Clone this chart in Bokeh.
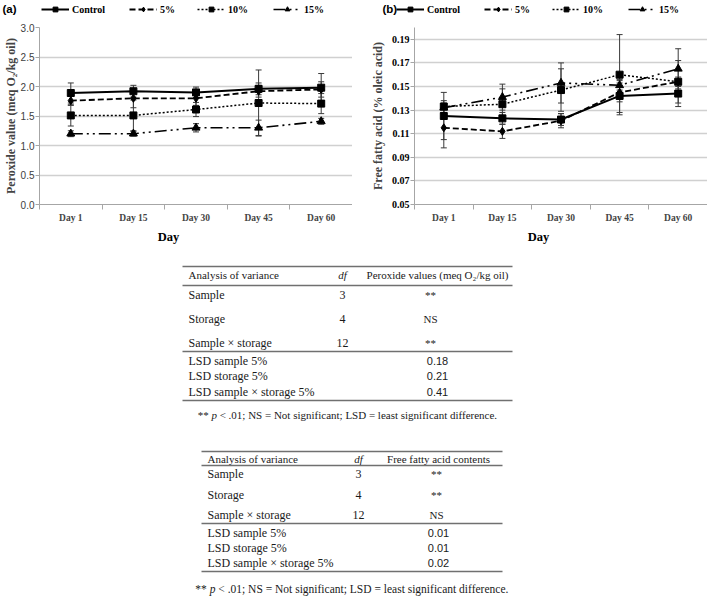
from bokeh.plotting import figure
from bokeh.models import (Range1d, FixedTicker, Legend, LegendItem, Whisker,
                          ColumnDataSource, TeeHead, PrintfTickFormatter)
from bokeh.layouts import column, row
from bokeh.embed import file_html
from bokeh.resources import INLINE
from bokeh.core.properties import value

# ---------------- data ----------------
days = ["Day 1", "Day 15", "Day 30", "Day 45", "Day 60"]
series = ["Control", "5%", "10%", "15%"]
panel_tags = ["(a)", "(b)"]
x_title = "Day"

# (a) Peroxide value (meq O2/kg oil)
pv_control = [1.89, 1.92, 1.90, 1.96, 1.98]
pv_5 = [1.76, 1.80, 1.80, 1.92, 1.95]
pv_10 = [1.51, 1.51, 1.61, 1.72, 1.71]
pv_15 = [1.20, 1.20, 1.30, 1.30, 1.41]
pv_control_err = [0.17, 0.10, 0.09, 0.10, 0.24]
pv_5_err = [0.08, 0.16, 0.12, 0.10, 0.13]
pv_10_err = [0.18, 0.26, 0.12, 0.56, 0.17]
pv_15_err = [0.05, 0.04, 0.07, 0.13, 0.05]
pv_ticks = [0.0, 0.5, 1.0, 1.5, 2.0, 2.5, 3.0]

# (b) Free fatty acid (% oleic acid)
ffa_control = [0.125, 0.123, 0.122, 0.142, 0.144]
ffa_5 = [0.115, 0.112, 0.121, 0.145, 0.154]
ffa_10 = [0.133, 0.135, 0.147, 0.160, 0.154]
ffa_15 = [0.132, 0.141, 0.153, 0.151, 0.165]
ffa_control_err = [0.020, 0.005, 0.005, 0.014, 0.011]
ffa_5_err = [0.017, 0.006, 0.006, 0.008, 0.018]
ffa_10_err = [0.005, 0.013, 0.018, 0.034, 0.004]
ffa_15_err = [0.004, 0.011, 0.017, 0.004, 0.017]
ffa_ticks = [0.05, 0.07, 0.09, 0.11, 0.13, 0.15, 0.17, 0.19]

# ANOVA tables
anova_header = ["Analysis of variance", "df"]
pv_header = "Peroxide values (meq O\u2082/kg oil)"
ffa_header = "Free fatty acid contents"
anova_sources = ["Sample", "Storage", "Sample \u00d7 storage"]
anova_df = ["3", "4", "12"]
pv_sig = ["**", "NS", "**"]
ffa_sig = ["**", "**", "NS"]
lsd_labels = ["LSD sample  5%", "LSD storage  5%", "LSD sample \u00d7 storage 5%"]
pv_lsd = ["0.18", "0.21", "0.41"]
ffa_lsd = ["0.01", "0.01", "0.02"]
footnote_parts = ["**", "p", "< .01; NS = Not significant; LSD = least significant difference."]

# ---------------- styles ----------------
SERIF = "Liberation Serif"
SANS = "Liberation Sans"
styles = {
    "Control": dict(dash="solid", width=2.0, marker="square", size=7),
    "5%": dict(dash="6 3", width=1.8, marker="diamond", size=8),
    "10%": dict(dash="2 2", width=1.5, marker="square", size=7),
    "15%": dict(dash="12 4 2 4 2 4", width=1.6, marker="triangle", size=8),
}
AX = "#a6a6a6"
xpos = [i + 0.5 for i in range(len(days))]
FRAME_H = 177
STRIP_H = 18
GLYPH_W = 28
LEGEND_LABEL_X = [73, 161, 229, 305]   # label start of each legend entry, panel (a)
PANEL_SHIFT = [0, 355]                 # panel (b) legend is the same, shifted
TAG_X = [2, 382]


def base_fig(**kw):
    f = figure(toolbar_location=None, output_backend="svg", title=None, **kw)
    f.outline_line_color = None
    return f


# ---------------- legend strip ----------------
strip = base_fig(width=709, height=STRIP_H, x_range=Range1d(0, 709),
                 y_range=Range1d(STRIP_H, 0), min_border=0)
strip.axis.visible = False
strip.grid.grid_line_color = None
nan = float("nan")
proxies = []
for s in series:
    st = styles[s]
    # legend proxies only (no visible data)
    lr = strip.line(x=[nan, nan], y=[nan, nan], line_color="black",
                    line_width=st["width"], line_dash=st["dash"])
    sr = strip.scatter(x=[nan], y=[nan], marker=st["marker"], size=st["size"],
                       color="black")
    proxies.append((s, [lr, sr]))
for shift in PANEL_SHIFT:
    for (s, rends), lx in zip(proxies, LEGEND_LABEL_X):
        strip.add_layout(Legend(
            items=[LegendItem(label=s, renderers=rends)],
            orientation="horizontal",
            location=(lx + shift - 3 - GLYPH_W - 1, 3),
            glyph_width=GLYPH_W, glyph_height=12, label_standoff=3,
            label_width=10, spacing=0, padding=1, margin=0,
            border_line_color=None, background_fill_alpha=0,
            label_text_font=SERIF, label_text_font_style="bold",
            label_text_font_size="10px", label_text_color="black",
            label_height=12))
strip.text(x=TAG_X, y=[8, 8], text=panel_tags, text_font=value(SANS),
           text_font_style="bold", text_font_size="11.5px", text_color="black",
           text_baseline="middle", text_align="left")


# ---------------- charts ----------------
def make_chart(frame_w, border_left, ylo, yhi, ticks, fmt, vals, errs,
               ylabel, label_std, serif_ticks):
    p = base_fig(frame_width=frame_w, frame_height=FRAME_H,
                 x_range=Range1d(0, len(days)), y_range=Range1d(ylo, yhi),
                 min_border_left=border_left, min_border_right=0,
                 min_border_top=9, min_border_bottom=24)
    p.xgrid.grid_line_color = None
    p.ygrid.grid_line_color = "#d0d0d0"
    p.ygrid.grid_line_width = 1.4

    for v, e in zip(vals, errs):
        src = ColumnDataSource(dict(x=xpos, upper=[a + b for a, b in zip(v, e)],
                                    lower=[a - b for a, b in zip(v, e)]))
        p.add_layout(Whisker(
            source=src, base="x", upper="upper", lower="lower",
            line_color="#3a3a3a", line_width=1,
            upper_head=TeeHead(size=6, line_color="#3a3a3a", line_width=1),
            lower_head=TeeHead(size=6, line_color="#3a3a3a", line_width=1)))

    for s, v in zip(series, vals):
        st = styles[s]
        p.line(xpos, v, line_color="black", line_width=st["width"],
               line_dash=st["dash"])
        p.scatter(xpos, v, marker=st["marker"], size=st["size"], color="black")

    xa = p.xaxis[0]
    xa.ticker = FixedTicker(ticks=xpos, minor_ticks=list(range(len(days) + 1)))
    xa.major_label_overrides = {x: d for x, d in zip(xpos, days)}
    xa.major_tick_out = 0
    xa.major_tick_in = 0
    xa.minor_tick_out = 5
    xa.minor_tick_in = 0
    xa.minor_tick_line_color = AX
    xa.axis_line_color = AX
    xa.major_label_text_font = SERIF
    xa.major_label_text_font_style = "bold"
    xa.major_label_text_font_size = "9.5px"
    xa.major_label_standoff = 3

    ya = p.yaxis[0]
    ya.ticker = FixedTicker(ticks=ticks)
    ya.formatter = PrintfTickFormatter(format=fmt)
    ya.axis_line_color = AX
    ya.major_tick_out = 4
    ya.major_tick_in = 0
    ya.major_tick_line_color = AX
    ya.minor_tick_line_color = None
    ya.major_label_standoff = 1
    if serif_ticks:
        ya.major_label_text_font = SERIF
        ya.major_label_text_font_style = "bold"
        ya.major_label_text_color = "black"
    else:
        ya.major_label_text_font = SANS
        ya.major_label_text_color = "#404040"
    ya.major_label_text_font_size = "10px"
    ya.axis_label = ylabel
    ya.axis_label_text_font = SERIF
    ya.axis_label_text_font_style = "bold"
    ya.axis_label_text_font_size = "12px"
    ya.axis_label_standoff = label_std
    return p


pa = make_chart(313, 38, 0.0, 3.0, pv_ticks, "%.1f",
                [pv_control, pv_5, pv_10, pv_15],
                [pv_control_err, pv_5_err, pv_10_err, pv_15_err],
                "Peroxide value (meq O\u2082/kg oil)", 0, False)
pb = make_chart(293, 62, 0.05, 0.20, ffa_ticks, "%.2f",
                [ffa_control, ffa_5, ffa_10, ffa_15],
                [ffa_control_err, ffa_5_err, ffa_10_err, ffa_15_err],
                "Free fatty acid (% oleic acid)", 4, True)

# ---------------- x titles + tables ----------------
TOP = STRIP_H + 9 + FRAME_H + 24
pt = base_fig(width=709, height=598 - TOP, x_range=Range1d(0, 709),
              y_range=Range1d(598, TOP), min_border=0)
pt.axis.visible = False
pt.grid.grid_line_color = None

pt.text(x=[168, 538], y=[236, 236], text=[x_title, x_title],
        text_font=value(SERIF), text_font_style="bold",
        text_font_size="12.5px", text_color="black",
        text_baseline="middle", text_align="center")

TXT = "#1a1a1a"
RULE = "#707070"


def table(left, right, rules, header_y, row_ys, lsd_ys, foot_y,
          x_label, x_df, x_sig, x_val, val_header, sig, lsd, foot_size):
    pt.segment(x0=[left] * len(rules), x1=[right] * len(rules), y0=rules,
               y1=rules, line_color=RULE, line_width=1.3)
    pt.text(x=[x_label], y=[header_y], text=[anova_header[0]],
            text_font=value(SERIF), text_font_size="11px", text_color=TXT,
            text_baseline="middle", text_align="left")
    pt.text(x=[x_df], y=[header_y], text=[anova_header[1]],
            text_font=value(SERIF), text_font_style="italic",
            text_font_size="11px", text_color=TXT, text_baseline="middle",
            text_align="center")
    pt.text(x=[x_val], y=[header_y], text=[val_header],
            text_font=value(SERIF), text_font_size="11px", text_color=TXT,
            text_baseline="middle", text_align="center")
    pt.text(x=[x_label] * 3, y=row_ys, text=anova_sources,
            text_font=value(SERIF), text_font_size="12px", text_color=TXT,
            text_baseline="middle", text_align="left")
    pt.text(x=[x_df] * 3, y=row_ys, text=anova_df,
            text_font=value(SERIF), text_font_size="12px", text_color=TXT,
            text_baseline="middle", text_align="center")
    pt.text(x=[x_sig] * 3, y=row_ys, text=sig,
            text_font=value(SERIF), text_font_size="11px", text_color=TXT,
            text_baseline="middle", text_align="center")
    pt.text(x=[x_label] * 3, y=lsd_ys, text=lsd_labels,
            text_font=value(SERIF), text_font_size="12px", text_color=TXT,
            text_baseline="middle", text_align="left")
    pt.text(x=[x_val] * 3, y=lsd_ys, text=lsd,
            text_font=value(SANS), text_font_size="11px", text_color=TXT,
            text_baseline="middle", text_align="center")
    em = foot_size
    total = 27.25 * em
    x0 = (left + right) / 2 - total / 2
    xs = [x0, x0 + 1.25 * em, x0 + 2.0 * em]
    for xx, part, style in zip(xs, footnote_parts, ["normal", "italic", "normal"]):
        pt.text(x=[xx], y=[foot_y], text=[part], text_font=value(SERIF),
                text_font_style=style, text_font_size=f"{em}px",
                text_color=TXT, text_baseline="middle", text_align="left")


table(182, 512, [266, 285, 351, 400], 274, [294, 318, 342], [360, 375, 391], 414,
      188, 342, 430, 437, pv_header, pv_sig, pv_lsd, 11)
table(201, 502, [451, 465, 523, 571], 458, [473, 494, 514], [532, 547, 562], 588,
      207, 358, 436, 438, ffa_header, ffa_sig, ffa_lsd, 11.5)

layout = column(strip, row(pa, pb), pt)
open("out.html", "w").write(file_html(layout, INLINE))
